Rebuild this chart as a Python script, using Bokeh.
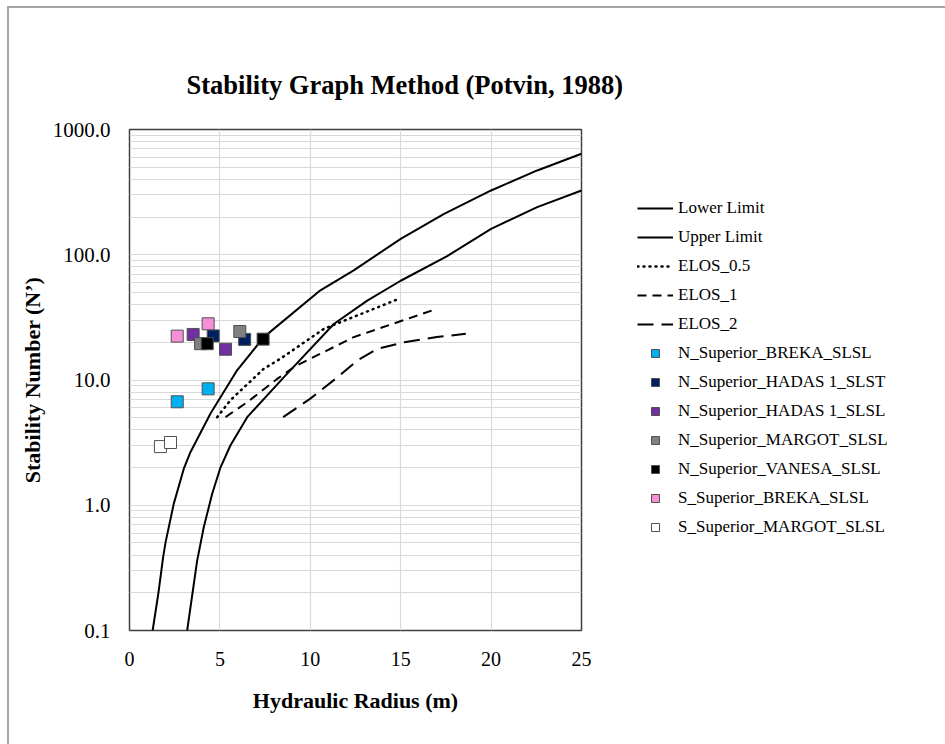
from bokeh.plotting import figure
from bokeh.models import (Legend, LegendItem, FixedTicker, PrintfTickFormatter, Range1d, InlineStyleSheet)
from bokeh.embed import file_html
from bokeh.resources import INLINE

# ---- data ----
lower_x = [1.28, 1.6, 1.86, 2.0, 2.45, 3.0, 3.37, 4.48, 5.96, 7.43, 10.56, 12.4, 15.0, 17.4, 20.0, 22.55, 25.0]
lower_y = [0.1, 0.2, 0.385, 0.51, 1.03, 1.95, 2.65, 5.4, 12.0, 22.0, 52.0, 75.0, 134.0, 212.0, 326.0, 471.0, 640.0]
upper_x = [3.19, 3.74, 4.11, 4.57, 5.03, 5.58, 6.51, 8.53, 11.3, 13.15, 15.0, 17.57, 20.0, 22.55, 25.0]
upper_y = [0.1, 0.36, 0.67, 1.23, 2.0, 3.0, 5.05, 10.5, 28.0, 43.0, 62.0, 97.5, 161.0, 240.0, 326.0]
elos05_x = [4.85, 5.58, 7.43, 8.35, 10.75, 14.9]
elos05_y = [5.05, 6.9, 12.3, 14.8, 25.6, 44.5]
elos1_x = [5.31, 6.51, 8.17, 9.09, 12.4, 16.74]
elos1_y = [5.05, 6.65, 10.2, 12.7, 22.0, 35.9]
elos2_x = [8.5, 10.0, 11.5, 12.6, 13.7, 15.2, 17.0, 18.6]
elos2_y = [5.05, 7.1, 10.5, 14.3, 17.7, 20.0, 22.0, 23.4]

series_names = ["N_Superior_BREKA_SLSL", "N_Superior_HADAS 1_SLST", "N_Superior_HADAS 1_SLSL",
                "N_Superior_MARGOT_SLSL", "N_Superior_VANESA_SLSL", "S_Superior_BREKA_SLSL",
                "S_Superior_MARGOT_SLSL"]
series_x = [[2.64, 4.35], [4.63, 6.37], [3.52, 5.31], [3.93, 6.10], [4.30, 7.39], [2.64, 4.35], [1.71, 2.27]]
series_y = [[6.7, 8.5], [22.5, 21.1], [23.1, 17.6], [19.5, 24.4], [19.5, 21.2], [22.4, 28.1], [2.94, 3.17]]
series_colors = ["#00b0f0", "#002060", "#7030a0", "#808080", "#000000", "#f58fd8", "#ffffff"]

x_ticks = [0, 5, 10, 15, 20, 25]
y_ticks = [0.1, 1, 10, 100, 1000]

FONT = "Liberation Serif"

p = figure(frame_width=452, frame_height=501, y_axis_type="log", output_backend="svg", toolbar_location=None,
           x_range=Range1d(0, 25), y_range=Range1d(0.1, 1000),
           min_border_left=129, min_border_right=0, min_border_top=129, min_border_bottom=114)

# thin grey chart-area border visible at top and left of the reference
p.stylesheets = [InlineStyleSheet(css=":host::after { content: ''; position: absolute; left: 7px; top: 6px; "
                                      "width: 945px; height: 744px; border-left: 2px solid #a6a6a6; "
                                      "border-top: 2px solid #a6a6a6; pointer-events: none; }")]

p.title.text = "Stability Graph Method (Potvin, 1988)"
p.title.text_font = FONT
p.title.text_font_size = "26.5px"
p.title.text_font_style = "bold"
p.title.text_color = "#000000"
p.title.align = "left"
p.title.offset = 57
p.title.standoff = 59

p.outline_line_color = "#404040"
p.outline_line_width = 1.5

# grids
p.xgrid.ticker = FixedTicker(ticks=x_ticks)
p.xgrid.grid_line_color = "#d9d9d9"
p.xgrid.grid_line_width = 1.2
minor = [k * 10.0 ** e for e in range(-1, 3) for k in range(2, 10)]
p.ygrid.ticker = FixedTicker(ticks=y_ticks, minor_ticks=minor)
p.ygrid.grid_line_color = "#d9d9d9"
p.ygrid.grid_line_width = 1.2
p.ygrid.minor_grid_line_color = "#d9d9d9"
p.ygrid.minor_grid_line_width = 1.2

# axes
p.xaxis.ticker = FixedTicker(ticks=x_ticks)
p.yaxis.ticker = FixedTicker(ticks=y_ticks)
p.yaxis.formatter = PrintfTickFormatter(format="%.1f")
for ax in (p.xaxis, p.yaxis):
    ax.axis_line_color = None
    ax.major_tick_line_color = None
    ax.minor_tick_line_color = None
    ax.major_tick_out = 0
    ax.minor_tick_out = 0
    ax.major_label_text_font = FONT
    ax.major_label_text_color = "#000000"
    ax.axis_label_text_font = FONT
    ax.axis_label_text_font_size = "22px"
    ax.axis_label_text_font_style = "bold"
    ax.axis_label_text_color = "#000000"
p.xaxis.major_label_text_font_size = "20px"
p.yaxis.major_label_text_font_size = "21px"
p.xaxis.axis_label = "Hydraulic Radius (m)"
p.yaxis.axis_label = "Stability Number (N\u2019)"
p.xaxis.major_label_standoff = 21
p.xaxis.axis_label_standoff = 19
p.yaxis.major_label_standoff = 19
p.yaxis.axis_label_standoff = 5

items = []
r = p.line(lower_x, lower_y, line_color="black", line_width=2)
items.append(LegendItem(label="Lower Limit", renderers=[r]))
r = p.line(upper_x, upper_y, line_color="black", line_width=2)
items.append(LegendItem(label="Upper Limit", renderers=[r]))
r = p.line(elos05_x, elos05_y, line_color="black", line_width=2.5, line_dash="1 5", line_cap="round")
items.append(LegendItem(label="ELOS_0.5", renderers=[r]))
r = p.line(elos1_x, elos1_y, line_color="black", line_width=2, line_dash="9 6")
items.append(LegendItem(label="ELOS_1", renderers=[r]))
r = p.line(elos2_x, elos2_y, line_color="black", line_width=2, line_dash="16 8")
items.append(LegendItem(label="ELOS_2", renderers=[r]))

for name, xs, ys, c in zip(series_names, series_x, series_y, series_colors):
    r = p.scatter(xs, ys, marker="square", size=12, fill_color=c, line_color="#505050", line_width=1)
    items.append(LegendItem(label=name, renderers=[r]))

legend = Legend(items=items, location=(56, 93))
legend.border_line_color = None
legend.background_fill_alpha = 0
legend.label_text_font = FONT
legend.label_text_font_size = "17px"
legend.label_text_color = "#000000"
legend.glyph_width = 36
legend.glyph_height = 20
legend.label_height = 20
legend.spacing = 9
legend.padding = 10
legend.margin = 0
legend.label_standoff = 5
p.add_layout(legend, "right")

open("out.html", "w").write(file_html(p, INLINE))
